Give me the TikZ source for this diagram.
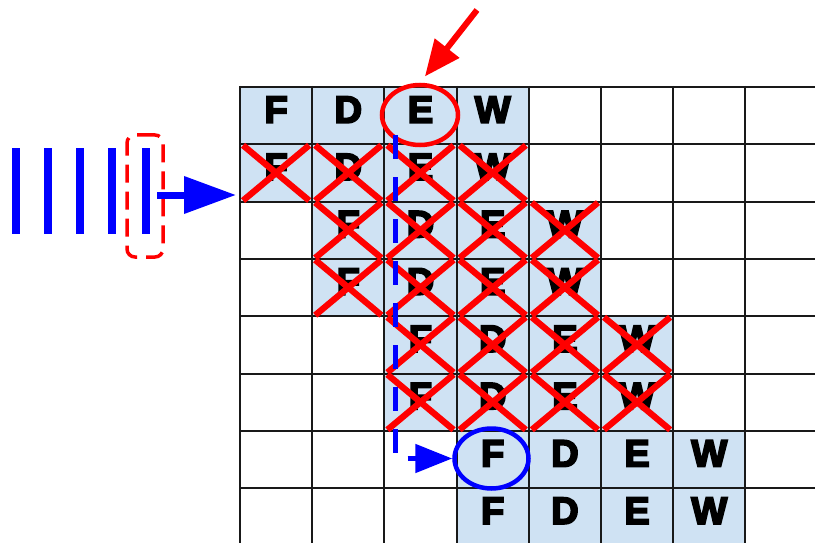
\documentclass[tikz,border=0pt]{standalone}
\usepackage{fontspec}
\setmainfont{Liberation Sans}
\newfontfamily\lettfont[UprightFont={* Bold}, UprightFeatures={FakeBold=5}]{Liberation Sans}
\usetikzlibrary{arrows.meta,shapes.geometric}
\definecolor{cellblue}{HTML}{CFE2F3}
\tikzset{
  cellfill/.style={fill=cellblue},
  gridline/.style={draw=black!90, line width=2pt},
  letter/.style={font=\lettfont\fontsize{38}{38}\selectfont, inner sep=0pt, text=black},
  crossline/.style={draw=red, line width=6.3pt},
  redring/.style={ellipse, draw=red, line width=4.5pt, inner sep=0pt, minimum width=76pt, minimum height=60pt},
  bluering/.style={ellipse, draw=blue, line width=4.5pt, inner sep=0pt, minimum width=74pt, minimum height=60pt},
  redarrow/.style={draw=red, line width=6pt, -{Triangle[length=36pt, width=30pt]}},
  bluedash/.style={draw=blue, line width=5pt, dash pattern=on 24pt off 18pt, -{Triangle[length=37pt, width=28pt]}},
  bluearrow/.style={draw=blue, line width=7pt, -{Triangle[length=52pt, width=36pt]}},
  bluebar/.style={draw=blue, line width=8pt},
  pickbox/.style={draw=red, line width=3.5pt, dash pattern=on 18pt off 9pt, rounded corners=8pt, minimum width=36pt, minimum height=122pt, inner sep=0pt},
}
\begin{document}
\begin{tikzpicture}[x=1pt, y=-1pt]
\useasboundingbox (0,0) rectangle (815,543);
\def\cw{72.2}
\def\rh{57.3}
\begin{scope}
\clip (0,0) rectangle (815,543);
% shaded cells
\foreach \r/\s in {0/0,1/0,2/1,3/1,4/2,5/2,6/3,7/3} {
  \foreach \i in {0,1,2,3} {
    \fill[cellfill] ({240+(\s+\i)*\cw}, {87+\r*\rh}) rectangle ++(\cw,\rh);
  }
}
% grid
\foreach \k in {0,...,8} {
  \draw[gridline] ({240+\k*\cw}, 86) -- ({240+\k*\cw}, 550);
}
\foreach \k in {0,...,8} {
  \draw[gridline] (239, {87+\k*\rh}) -- (820, {87+\k*\rh});
}
% letters
\foreach \r/\s in {0/0,1/0,2/1,3/1,4/2,5/2,6/3,7/3} {
  \foreach \L [count=\i from 0] in {F,D,E,W} {
    \node[letter] (L\r\i) at ({240+(\s+\i+0.5)*\cw}, {87+(\r+0.5)*\rh-6}) {\L};
  }
}
% crosses
\foreach \r/\s in {1/0,2/1,3/1,4/2,5/2} {
  \foreach \i in {0,1,2,3} {
    \pgfmathsetmacro\xa{240+(\s+\i)*\cw+3}
    \pgfmathsetmacro\xb{240+(\s+\i+1)*\cw-3}
    \pgfmathsetmacro\ya{87+\r*\rh+1}
    \pgfmathsetmacro\yb{87+(\r+1)*\rh-1}
    \draw[crossline] (\xa,\ya) -- (\xb,\yb);
    \draw[crossline] (\xa,\yb) -- (\xb,\ya);
  }
}
\end{scope}
% rings
\node[redring] (sel) at (420,115) {};
\node[bluering] (tgt) at (491.5,458.5) {};
% red arrow
\coordinate (rtail) at (477,10);
\draw[redarrow, shorten >=8pt] (rtail) -- (sel.north);
% blue dashed jump
\coordinate (dtop) at (395,135);
\draw[bluedash] (dtop) |- (tgt.west);
% left bars
\foreach \x in {16,48,80,112,146} {
  \draw[bluebar] (\x,148) -- (\x,234);
}
\node[pickbox] (pick) at (145,196) {};
\coordinate (gin) at (236,195);
\coordinate (ltail) at (157,195);
\draw[bluearrow] (ltail) -- (gin);
\end{tikzpicture}
\end{document}
